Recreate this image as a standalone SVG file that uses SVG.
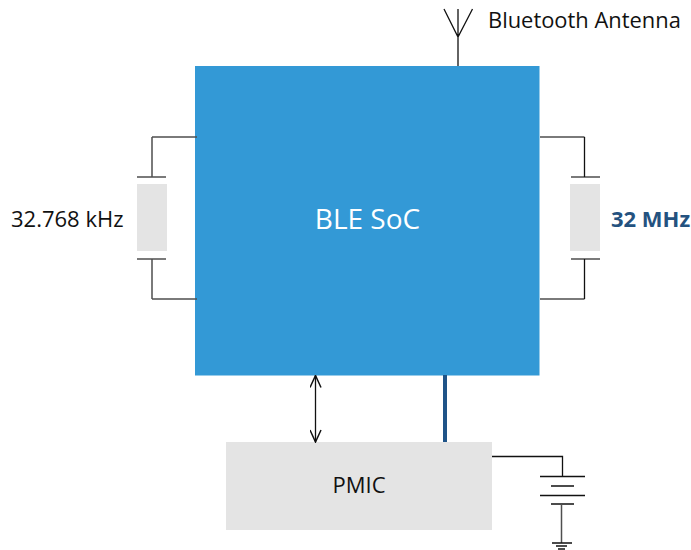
<svg xmlns="http://www.w3.org/2000/svg" width="691" height="550" viewBox="0 0 691 550">
<style>
text{font-family:"Open Sans","Noto Sans",sans-serif;font-size:22px;fill:#111}
.w{fill:none;stroke:#111;stroke-width:1.3}
.g{fill:none;stroke:#4f4f4f;stroke-width:1.5}
.box{fill:#e4e4e4}
</style>
<defs>
<marker id="a" viewBox="0 0 14 12" refX="13" refY="6" markerWidth="14" markerHeight="12" markerUnits="userSpaceOnUse" orient="auto-start-reverse"><path d="M1 0.5L13 6L1 11.500" fill="none" stroke="#111" stroke-width="1.5"/></marker>
</defs>
<g id="soc"><rect x="195" y="66" width="344.500" height="309.500" fill="#3399d6"/><text x="367.500" y="229" text-anchor="middle" style="font-size:28px;fill:#fff">BLE SoC</text></g>
<g id="pmic"><rect class="box" x="226" y="442" width="266" height="88"/><text x="359" y="493" text-anchor="middle">PMIC</text></g>
<g id="xtal-left"><rect class="box" x="137" y="184" width="30" height="67"/><text x="11" y="227">32.768 kHz</text></g>
<g id="xtal-right"><rect class="box" x="570" y="184" width="30" height="67"/><text x="611" y="227" style="font-weight:700;fill:#24527f">32 MHz</text></g>
<g id="antenna"><text x="488" y="28" style="font-size:21.900px">Bluetooth Antenna</text></g>
<g id="connectors">
<path class="w" d="M444 9L458 37L472.500 9M458 9V66"/>
<path class="g" d="M197 137H152M152 137V177M137 177H166M137 259H166M152 259V299M152 299H197"/>
<path class="g" d="M540 137H584.500M540 299H584.500M571 177H600M571 259H600"/>
<path class="w" d="M584.500 137V177M584.500 259V299"/>
<path class="w" d="M315.500 375.500V442" marker-start="url(#a)" marker-end="url(#a)"/>
<path d="M445 375V442" fill="none" stroke="#1f5488" stroke-width="4"/>
<path class="w" d="M492 456.500H562.500V476M540 476.500H585M551 486H574M540 495.500H585M551 504H574"/>
<path class="g" d="M561.500 504V543"/>
<path class="w" d="M552 543H572M556 546H567M558 549H565"/>
</g>
</svg>
